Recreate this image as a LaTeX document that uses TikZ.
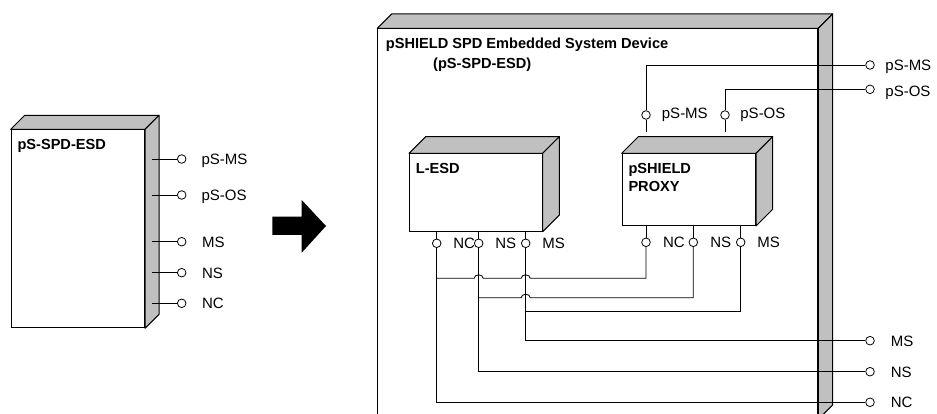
\documentclass[tikz,border=0pt]{standalone}
\usepackage{fontspec}
\setmainfont{Liberation Sans}
\usetikzlibrary{positioning,calc}
\definecolor{facegray}{RGB}{192,192,192}

\begin{document}
\begin{tikzpicture}[x=1pt,y=-1pt,
   every node/.style={font=\fontsize{15}{17}\selectfont},
   front/.style={draw,fill=white,line width=1pt,anchor=north west,inner sep=0pt},
   face/.style={draw,fill=facegray,line width=1pt,line join=round},
   pin/.style={draw,circle,fill=white,minimum size=8.6pt,inner sep=0pt,line width=0.8pt},
   lbl/.style={inner sep=0pt,text height=10.7pt,text depth=0pt,anchor=west},
   ttl/.style={inner sep=0pt,anchor=base west,font=\fontsize{14.6}{17}\selectfont\bfseries},
   wire/.style={line width=0.85pt}
]
\clip (0,0) rectangle (937,414);

% left device
\node[front,minimum width=133.3pt,minimum height=198pt] (lbox) at (10.7,129.3) {};
\draw[face] (lbox.north west) -- ++(14,-14) -- ($(lbox.north east)+(14,-14)$) -- (lbox.north east) -- cycle;
\draw[face] (lbox.north east) -- ++(14,-14) -- ($(lbox.south east)+(14,-14)$) -- (lbox.south east) -- cycle;
\node[ttl] (lboxt) at (17.3,150) {pS-SPD-ESD};
\coordinate (lside) at ($(lbox.east)+(6.7,0)$);

\node[pin] (lp1) at (181.7,159) {};
\node[pin] (lp2) at (181.7,195) {};
\node[pin] (lp3) at (181.7,241.7) {};
\node[pin] (lp4) at (181.7,272.7) {};
\node[pin] (lp5) at (181.7,303.3) {};
\draw[wire] (lside |- lp1) -- (lp1);
\draw[wire] (lside |- lp2) -- (lp2);
\draw[wire] (lside |- lp3) -- (lp3);
\draw[wire] (lside |- lp4) -- (lp4);
\draw[wire] (lside |- lp5) -- (lp5);
\node[lbl,right=15pt of lp1] (lt1) {pS-MS};
\node[lbl,right=15pt of lp2] (lt2) {pS-OS};
\node[lbl,right=15.5pt of lp3] (lt3) {MS};
\node[lbl,right=15.5pt of lp4] (lt4) {NS};
\node[lbl,right=15.5pt of lp5] (lt5) {NC};

% arrow
\fill (272.3,216.7) -- (301.7,216.7) -- (301.7,200) -- (326,226) -- (301.7,252.7)
   -- (301.7,235) -- (272.3,235) -- cycle;

% embedded system device
\node[front,minimum width=440pt,minimum height=390pt] (big) at (377.3,28.3) {};
\draw[face] (big.north west) -- ++(14.4,-14.4) -- ($(big.north east)+(14.4,-14.4)$) -- (big.north east) -- cycle;
\draw[face] (big.north east) -- ++(14.4,-14.4) -- ($(big.south east)+(14.4,-14.4)$) -- (big.south east) -- cycle;
\node[ttl] (bigt1) at (385.7,48.3) {pSHIELD SPD Embedded System Device};
\node[ttl] (bigt2) at (433,68.3) {(pS-SPD-ESD)};

% L-ESD
\node[front,minimum width=132.7pt,minimum height=77.4pt] (lesd) at (409,153.3) {};
\draw[face] (lesd.north west) -- ++(16.7,-16.7) -- ($(lesd.north east)+(16.7,-16.7)$) -- (lesd.north east) -- cycle;
\draw[face] (lesd.north east) -- ++(16.7,-16.7) -- ($(lesd.south east)+(16.7,-16.7)$) -- (lesd.south east) -- cycle;
\node[ttl] (lesdt) at (415.7,173.3) {L-ESD};

% proxy
\node[front,minimum width=133.3pt,minimum height=71.7pt] (proxy) at (621.7,153.3) {};
\draw[face] (proxy.north west) -- ++(16.7,-16.7) -- ($(proxy.north east)+(16.7,-16.7)$) -- (proxy.north east) -- cycle;
\draw[face] (proxy.north east) -- ++(16.7,-16.7) -- ($(proxy.south east)+(16.7,-16.7)$) -- (proxy.south east) -- cycle;
\node[ttl] (proxyt1) at (628.3,173.3) {pSHIELD};
\node[ttl] (proxyt2) at (628.3,191.7) {PROXY};
\coordinate (ptop) at ($(proxy.north)+(0,-21.6)$);

% pins of the inner boxes
\node[pin] (lnc) at (436.7,243.3) {};
\node[pin] (lns) at (478.7,243.3) {};
\node[pin] (lms) at (525.7,243.3) {};
\node[pin] (pnc) at (646,242.3) {};
\node[pin] (pns) at (693.3,242.3) {};
\node[pin] (pms) at (740.7,242.3) {};
\node[pin] (ptms) at (646,115) {};
\node[pin] (ptos) at (725,115) {};
\draw[wire] (lesd.south -| lnc) -- (lnc);
\draw[wire] (lesd.south -| lns) -- (lns);
\draw[wire] (lesd.south -| lms) -- (lms);
\draw[wire] (proxy.south -| pnc) -- (pnc);
\draw[wire] (proxy.south -| pns) -- (pns);
\draw[wire] (proxy.south -| pms) -- (pms);
\draw[wire] (ptop -| ptms) -- (ptms);
\draw[wire] (ptop -| ptos) -- (ptos);
\node[lbl,right=11.7pt of lnc] (lnct) {NC};
\node[lbl,right=11.7pt of lns] (lnst) {NS};
\node[lbl,right=11.7pt of lms] (lmst) {MS};
\node[lbl,right=12.2pt of pnc] (pnct) {NC};
\node[lbl,right=12.2pt of pns] (pnst) {NS};
\node[lbl,right=11.7pt of pms] (pmst) {MS};
\node[lbl,right=11pt of ptms,yshift=2pt] (ptmst) {pS-MS};
\node[lbl,right=10.5pt of ptos,yshift=2pt] (ptost) {pS-OS};

% outer pins
\node[pin] (xpms) at (870,65) {};
\node[pin] (xpos) at (870,89.3) {};
\node[pin] (xms) at (870,340.7) {};
\node[pin] (xns) at (870,371.7) {};
\node[pin] (xnc) at (870,402.3) {};
\node[lbl,right=10.5pt of xpms] (xpmst) {pS-MS};
\node[lbl,right=10.5pt of xpos,yshift=-2pt] (xpost) {pS-OS};
\node[lbl,right=16pt of xms] (xmst) {MS};
\node[lbl,right=16pt of xns] (xnst) {NS};
\node[lbl,right=16pt of xnc] (xnct) {NC};

% wiring
\coordinate (jnc) at (436.7,278.3);
\coordinate (jns) at (478.7,297.7);
\coordinate (jms) at (525.7,311.7);
\draw[wire] (ptms) |- (xpms);
\draw[wire] (ptos) |- (xpos);
\draw[wire] (lms) |- (xms);
\draw[wire] (lns) |- (xns);
\draw[wire] (lnc) |- (xnc);
\draw[wire] (jnc) -- ($(jnc -| lns)+(-4.5,0)$) arc[start angle=180,end angle=0,x radius=4.5pt,y radius=3.5pt]
   -- ($(jnc -| lms)+(-4.5,0)$) arc[start angle=180,end angle=0,x radius=4.5pt,y radius=3.5pt]
   -- (jnc -| pnc) -- (pnc);
\draw[wire] (jns) -- ($(jns -| lms)+(-4.5,0)$) arc[start angle=180,end angle=0,x radius=4.5pt,y radius=3.5pt]
   -- (jns -| pns) -- (pns);
\draw[wire] (jms) -- (jms -| pms) -- (pms);

\end{tikzpicture}
\end{document}
